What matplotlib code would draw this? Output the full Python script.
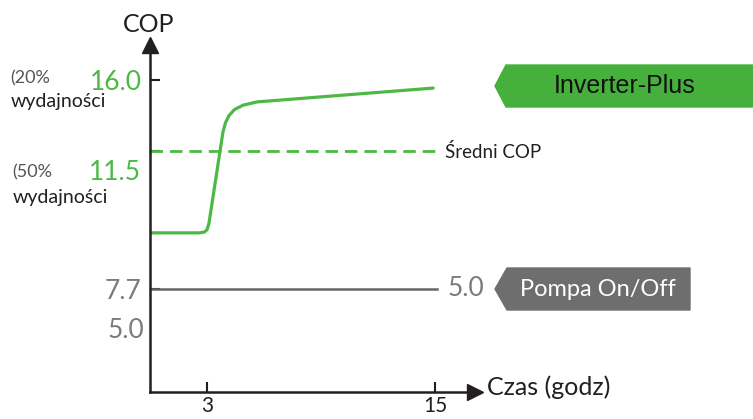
import matplotlib
matplotlib.use("Agg")
import matplotlib.pyplot as plt
from matplotlib.patches import Polygon

plt.rcParams['font.family'] = ['Lato', 'DejaVu Sans']

# Data: time (h) and COP level of the inverter unit
czas = [0, 2.6, 2.85, 3.0, 3.1, 3.84, 3.97, 4.15, 4.45, 4.9, 5.63, 14.9]
cop_inverter = [9.93, 9.93, 9.96, 10.05, 10.3, 13.94, 14.3, 14.58, 14.83, 15.0, 15.13, 15.68]
sredni_cop = 13.18
cop_onoff = 7.7
low_cop = 9.93
x_ticks = [3, 15]

GREEN = "#4cb944"
GRAY_TXT = "#7b7b7b"
W, H = 753, 419

fig = plt.figure(figsize=(W / 100, H / 100), dpi=100)
ax = fig.add_axes([150 / W, 1 - 392 / H, (475 - 150) / W, (392 - 45) / H])
ax.set_xlim(0, 17.1)
ax.set_ylim(3.61, 17.39)

# lines
ax.plot(czas, cop_inverter, color=GREEN, lw=2.3, solid_capstyle='round')
ax.plot([0, 15.3], [sredni_cop, sredni_cop], color=GREEN, lw=2.0, ls=(0, (4.5, 2.5)))
ax.plot([0, 15.1], [cop_onoff, cop_onoff], color="#666666", lw=1.8)

# axes look
for s in ['top', 'right']:
    ax.spines[s].set_visible(False)
for s in ['left', 'bottom']:
    ax.spines[s].set_linewidth(1.8)
    ax.spines[s].set_color("#231f20")
ax.plot(0, 1, marker='^', color="#231f20", ms=11, transform=ax.transAxes, clip_on=False)
ax.plot(1, 0, marker='>', color="#231f20", ms=11, transform=ax.transAxes, clip_on=False)

ax.set_xticks(x_ticks)
ax.set_xticklabels([str(t) for t in x_ticks], fontsize=15, color="#231f20")
ax.tick_params(axis='x', direction='in', length=7, width=1.5, color="#231f20", pad=3)
ax.set_yticks([16.0, sredni_cop, low_cop, cop_onoff])
ax.set_yticklabels(["16.0", "", "", "7.7"], fontsize=19)
ax.tick_params(axis='y', direction='in', length=7, width=1.5, color="#231f20", pad=6)
labs = ax.get_yticklabels()
labs[0].set_color(GREEN)
labs[3].set_color(GRAY_TXT)


def fx(px):
    return px / W


def fy(py):
    return 1 - py / H


# axis titles
fig.text(fx(149), fy(24), "COP", fontsize=18, color="#231f20", ha='center', va='center')
fig.text(fx(487), fy(387), "Czas (godz)", fontsize=18, color="#231f20", ha='left', va='center')

# left side labels
fig.text(fx(10), fy(78), "(20%", fontsize=13, color="#555555", ha='left', va='center')
fig.text(fx(11), fy(102), "wydajności", fontsize=14, color="#231f20", ha='left', va='center')
fig.text(fx(12), fy(172), "(50%", fontsize=13, color="#555555", ha='left', va='center')
fig.text(fx(13), fy(197), "wydajności", fontsize=14, color="#231f20", ha='left', va='center')
fig.text(fx(141), fy(172), "11.5", fontsize=19, color=GREEN, ha='right', va='center')
fig.text(fx(144), fy(331), "5.0", fontsize=19, color=GRAY_TXT, ha='right', va='center')

# right side labels
fig.text(fx(445), fy(152), "Średni COP", fontsize=13.5, color="#231f20", ha='left', va='center')
fig.text(fx(448), fy(289), "5.0", fontsize=19, color=GRAY_TXT, ha='left', va='center')

green_box = Polygon([(fx(495), fy(86)), (fx(506), fy(65)), (fx(753), fy(65)),
                     (fx(753), fy(107)), (fx(506), fy(107))],
                    closed=True, transform=fig.transFigure, color="#46b03c")
fig.patches.append(green_box)
fig.text(fx(625), fy(86), "Inverter-Plus", fontsize=18, color="#111111",
         family=['Liberation Sans', 'DejaVu Sans'], ha='center', va='center')

gray_box = Polygon([(fx(495), fy(289)), (fx(507), fy(268)), (fx(690), fy(268)),
                    (fx(690), fy(310)), (fx(507), fy(310))],
                   closed=True, transform=fig.transFigure, color="#6e6e6e")
fig.patches.append(gray_box)
fig.text(fx(598), fy(289), "Pompa On/Off", fontsize=17, color="white", ha='center', va='center')

fig.savefig("out.png", dpi=100)
